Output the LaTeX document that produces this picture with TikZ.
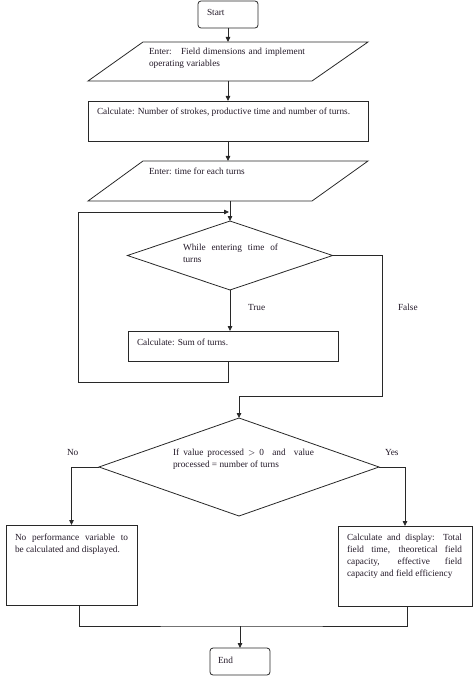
\documentclass[tikz,border=0pt]{standalone}
\usepackage{fontspec}
\setmainfont{Liberation Serif}
\usetikzlibrary{shapes.geometric,arrows.meta}
\definecolor{ink}{RGB}{35,25,40}
\definecolor{edge}{RGB}{40,40,40}
\begin{document}
\begin{tikzpicture}[x=1pt,y=-1pt,
  line/.style={draw=edge, line width=0.8pt},
  arr/.style={line, -{Triangle[length=5pt,width=4.5pt]}},
  shp/.style={line, inner sep=0pt, outer sep=0pt},
  box/.style={shp, rectangle},
  term/.style={shp, rectangle, rounded corners=3pt},
  parabox/.style={rectangle, inner sep=0pt, outer sep=0pt},
  dec/.style={shp, diamond},
  txt/.style={inner sep=0pt, outer sep=0pt, anchor=base west, text=ink, font=\fontsize{9.3}{12}\selectfont},
  jtxt/.style={txt, align=justify, text width=#1},
]
\useasboundingbox (0,0) rectangle (474,679);

% shapes
\node[term, minimum width=60pt, minimum height=27pt] (start) at (228,14.5) {};
\node[parabox, minimum width=280pt, minimum height=39pt] (p1) at (228,61.5) {};
\draw[line] ([xshift=55pt]p1.north west) -- (p1.north east) -- ([xshift=-56pt]p1.south east) -- (p1.south west) -- cycle;
\node[box, minimum width=280pt, minimum height=40pt] (r1) at (228,121) {};
\node[parabox, minimum width=280pt, minimum height=40pt] (p2) at (228,181) {};
\draw[line] ([xshift=55pt]p2.north west) -- (p2.north east) -- ([xshift=-56pt]p2.south east) -- (p2.south west) -- cycle;
\node[dec, minimum width=205pt, minimum height=69pt] (d1) at (230,255.5) {};
\node[box, minimum width=210pt, minimum height=30pt] (r2) at (233,346) {};
\node[dec, minimum width=280pt, minimum height=98pt] (d2) at (239,467) {};
\node[box, minimum width=131pt, minimum height=80pt] (lbox) at (71.5,565) {};
\node[box, minimum width=134pt, minimum height=80pt] (rbox) at (405,566) {};
\node[term, minimum width=60pt, minimum height=27pt] (end) at (240,661.5) {};

% texts
\node[txt] (tstart) at (207,16) {Start};
\node[jtxt=156pt] (tp1) at (149,55) {Enter:\quad Field dimensions and implement\linebreak operating variables};
\node[txt] (tr1) at (97,115) {Calculate: Number of strokes, productive time and number of turns.};
\node[txt] (tp2) at (149,175) {Enter: time for each turns};
\node[jtxt=95pt] (td1) at (183,250) {While entering time of\linebreak turns};
\node[txt] (ttrue) at (248,310) {True};
\node[txt] (tfalse) at (398,310) {False};
\node[txt] (tr2) at (137,345) {Calculate: Sum of turns.};
\node[jtxt=141pt] (td2) at (173,455) {If value processed $>$ 0 \ and \ value\linebreak processed = number of turns};
\node[txt] (tno) at (67,455) {No};
\node[txt] (tyes) at (385,455) {Yes};
\node[jtxt=113pt] (tl) at (15,540) {No performance variable to\linebreak be calculated and displayed.};
\node[jtxt=115pt] (tr) at (347,540) {Calculate and display: Total\linebreak field time, theoretical field\linebreak capacity, effective field\linebreak capacity and field efficiency};
\node[txt] (tend) at (218,663) {End};

% junction coordinates
\coordinate (lpin) at (230,212);
\coordinate (lpbot) at (228,382);
\coordinate (lpleft) at (78,382);
\coordinate (fr) at (382,396);
\coordinate (jb) at (240,626);

% connectors
\draw[arr] (start.south) -- (start.south |- p1.north);
\draw[arr] (p1.south -| r1.north) -- (r1.north);
\draw[arr] (r1.south) -- (r1.south |- p2.north);
\draw[arr] (p2.south -| d1.north) -- (d1.north);
\draw[arr] (r2.south -| lpbot) -- (lpbot) -- (lpleft) |- ([xshift=-1pt]lpin);
\draw[arr] (d1.south) -- (d1.south |- r2.north);
\draw[arr] (d1.east) -| (fr) -| (d2.north);
\draw[arr] (d2.west) -| (lbox.north);
\draw[arr] (d2.east) -| (rbox.north);
\draw[line] ([xshift=7.5pt]lbox.south) |- (jb) -| ([xshift=2pt]rbox.south);
\draw[arr] (jb) -- (end.north);
\end{tikzpicture}
\end{document}
